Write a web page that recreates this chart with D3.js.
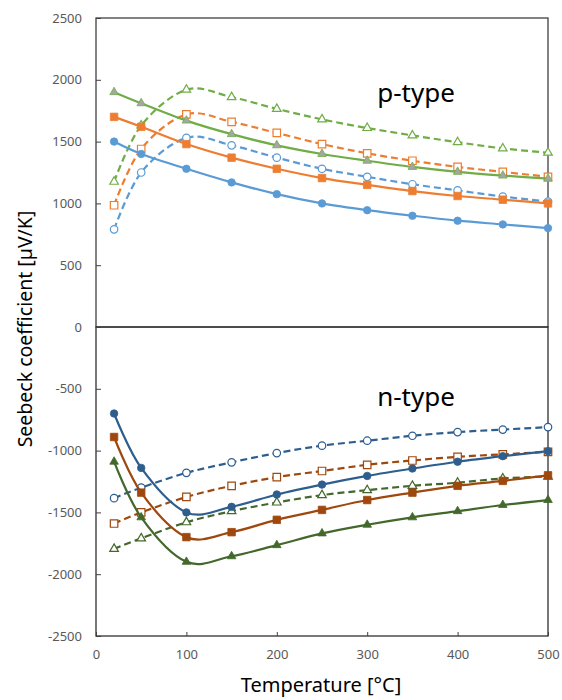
<!DOCTYPE html>
<html>
<head>
<meta charset="utf-8">
<script src="https://cdn.jsdelivr.net/npm/d3@7"></script>
<style>
    body { margin: 0; background: #fff; }
    svg text { font-family: "Noto Sans", "Open Sans", sans-serif; }
    .tick text { fill: #595959; font-size: 13px; }
    .tick line { stroke: #404040; }
</style>
</head>
<body>
<div id="vis"></div>
<script>
// Temperatures (x) shared by every series
let temperature = [20, 50, 100, 150, 200, 250, 300, 350, 400, 450, 500];

// p-type, solid lines with filled markers
let pCircleFilled = [1500, 1400, 1280, 1170, 1075, 1000, 945, 900, 860, 830, 800];
let pSquareFilled = [1700, 1620, 1480, 1370, 1280, 1205, 1150, 1100, 1060, 1030, 1000];
let pTriangleFilled = [1900, 1810, 1670, 1560, 1470, 1400, 1345, 1295, 1255, 1225, 1200];
// p-type, dashed lines with open markers
let pCircleOpen = [790, 1250, 1530, 1470, 1370, 1280, 1215, 1155, 1105, 1055, 1015];
let pSquareOpen = [985, 1440, 1720, 1660, 1570, 1480, 1405, 1345, 1295, 1255, 1215];
let pTriangleOpen = [1175, 1630, 1920, 1860, 1765, 1680, 1610, 1550, 1495, 1445, 1410];

// n-type, solid lines with filled markers
let nCircleFilled = [-700, -1140, -1500, -1455, -1355, -1275, -1205, -1145, -1090, -1045, -1005];
let nSquareFilled = [-890, -1340, -1700, -1660, -1560, -1480, -1400, -1340, -1285, -1245, -1200];
let nTriangleFilled = [-1090, -1540, -1900, -1855, -1765, -1670, -1600, -1540, -1490, -1440, -1400];
// n-type, dashed lines with open markers
let nCircleOpen = [-1385, -1300, -1180, -1095, -1020, -960, -920, -880, -850, -830, -810];
let nSquareOpen = [-1590, -1500, -1375, -1285, -1215, -1165, -1115, -1080, -1050, -1030, -1010];
let nTriangleOpen = [-1795, -1710, -1580, -1490, -1420, -1360, -1320, -1285, -1260, -1225, -1210];

// tick labels
let xTicks = [0, 100, 200, 300, 400, 500];
let yTicksTop = [0, 500, 1000, 1500, 2000, 2500];
let yTicksBottom = [-2500, -2000, -1500, -1000, -500];

let width = 562, height = 700;
// plot box edges (px)
let box = { left: 96, right: 548, top: 18, mid: 327, bottom: 636 };

let svg = d3.select('#vis').append('svg')
    .attr('width', width)
    .attr('height', height);

let xScale = d3.scaleLinear().domain([0, 500]).range([box.left, box.right]);
let yTop = d3.scaleLinear().domain([0, 2500]).range([box.mid, box.top]);
let yBottom = d3.scaleLinear().domain([-2500, 0]).range([box.bottom, box.mid]);

// plain numbers, hyphen minus, no thousands separator
let fmt = d => String(d);

// panel frames
svg.append('rect')
    .attr('x', box.left).attr('y', box.top)
    .attr('width', box.right - box.left).attr('height', box.mid - box.top)
    .attr('fill', 'none').attr('stroke', '#404040').attr('stroke-width', 1.3);
svg.append('rect')
    .attr('x', box.left).attr('y', box.mid)
    .attr('width', box.right - box.left).attr('height', box.bottom - box.mid)
    .attr('fill', 'none').attr('stroke', '#303030').attr('stroke-width', 1.3);

// axes (ticks point inwards like Excel)
svg.append('g')
    .attr('transform', `translate(${box.left},0)`)
    .call(d3.axisLeft(yTop).tickValues(yTicksTop).tickFormat(fmt).tickSize(-5).tickPadding(14));
svg.append('g')
    .attr('transform', `translate(${box.left},0)`)
    .call(d3.axisLeft(yBottom).tickValues(yTicksBottom).tickFormat(fmt).tickSize(-5).tickPadding(14));
svg.append('g')
    .attr('transform', `translate(0,${box.bottom})`)
    .call(d3.axisBottom(xScale).tickValues(xTicks).tickFormat(fmt).tickSize(-4).tickPadding(14));
svg.selectAll('.domain').remove();

// series table built from the arrays above
let series = [
    { values: pCircleOpen, y: yTop, color: '#5B9BD5', shape: d3.symbolCircle, open: true },
    { values: pSquareOpen, y: yTop, color: '#ED7D31', shape: d3.symbolSquare, open: true },
    { values: pTriangleOpen, y: yTop, color: '#70AD47', shape: d3.symbolTriangle, open: true },
    { values: pCircleFilled, y: yTop, color: '#5B9BD5', shape: d3.symbolCircle, open: false },
    { values: pSquareFilled, y: yTop, color: '#ED7D31', shape: d3.symbolSquare, open: false },
    { values: pTriangleFilled, y: yTop, color: '#70AD47', shape: d3.symbolTriangle, open: false, markerFill: '#A5A5A5' },
    { values: nCircleOpen, y: yBottom, color: '#2E5E8E', shape: d3.symbolCircle, open: true },
    { values: nSquareOpen, y: yBottom, color: '#9E480E', shape: d3.symbolSquare, open: true },
    { values: nTriangleOpen, y: yBottom, color: '#43682B', shape: d3.symbolTriangle, open: true },
    { values: nCircleFilled, y: yBottom, color: '#2E5E8E', shape: d3.symbolCircle, open: false },
    { values: nSquareFilled, y: yBottom, color: '#9E480E', shape: d3.symbolSquare, open: false },
    { values: nTriangleFilled, y: yBottom, color: '#43682B', shape: d3.symbolTriangle, open: false }
];

let symbolSize = shape => shape === d3.symbolSquare ? 56 : (shape === d3.symbolTriangle ? 32 : 44);

series.forEach(s => {
    let pts = temperature.map((t, i) => [t, s.values[i]]);
    let line = d3.line()
        .x(d => xScale(d[0]))
        .y(d => s.y(d[1]))
        .curve(d3.curveCardinal.tension(0));

    svg.append('path')
        .datum(pts)
        .attr('d', line)
        .attr('fill', 'none')
        .attr('stroke', s.color)
        .attr('stroke-width', 2.2)
        .attr('stroke-dasharray', s.open ? '7,4' : null);

    svg.append('g').selectAll('path')
        .data(pts)
        .join('path')
        .attr('transform', d => `translate(${xScale(d[0])},${s.y(d[1])})`)
        .attr('d', d3.symbol().type(s.shape).size(symbolSize(s.shape)))
        .attr('fill', s.open ? '#fff' : (s.markerFill || s.color))
        .attr('stroke', s.color)
        .attr('stroke-width', s.open ? 1.2 : 0.8);
});

// panel labels
svg.append('text')
    .attr('x', 416).attr('y', 102)
    .attr('text-anchor', 'middle')
    .style('font-size', '26px')
    .text('p-type');
svg.append('text')
    .attr('x', 416).attr('y', 406)
    .attr('text-anchor', 'middle')
    .style('font-size', '26px')
    .text('n-type');

// axis titles
svg.append('text')
    .attr('transform', 'translate(321, 692)')
    .attr('text-anchor', 'middle')
    .style('font-size', '20px')
    .text('Temperature [°C]');
svg.append('text')
    .attr('transform', 'translate(32, 329) rotate(-90)')
    .attr('text-anchor', 'middle')
    .style('font-size', '19.5px')
    .text('Seebeck coefficient [µV/K]');
</script>
</body>
</html>
